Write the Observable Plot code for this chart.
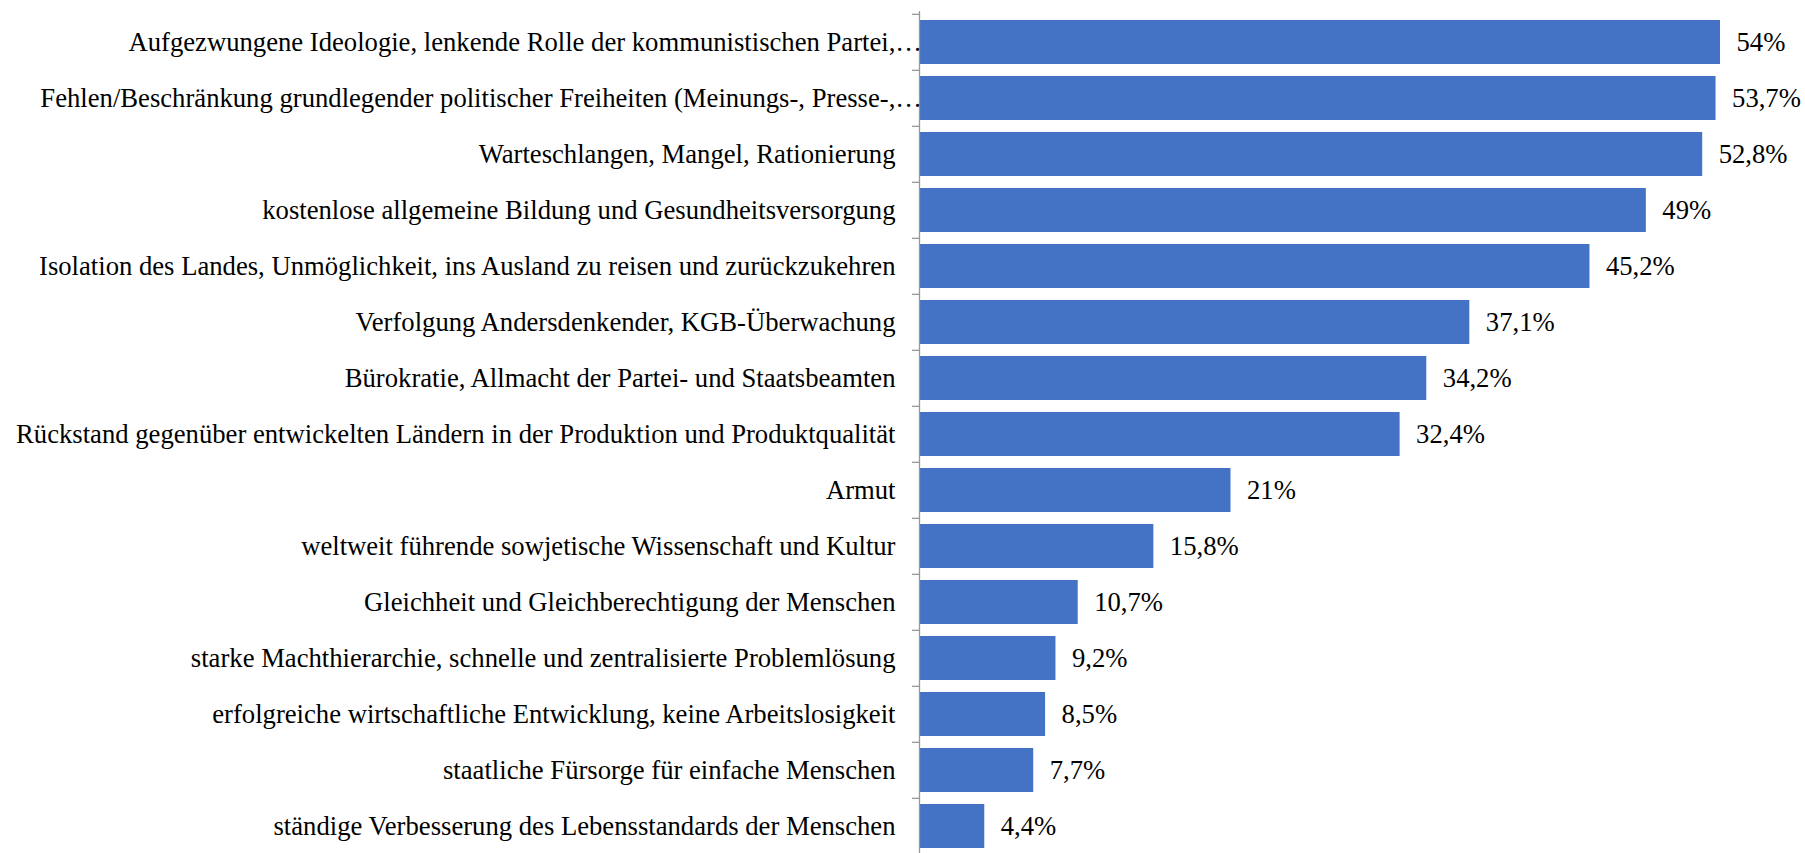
<!DOCTYPE html>
<html>
<head>
<meta charset="utf-8">
<script src="https://cdn.jsdelivr.net/npm/d3@7"></script>
<script src="https://cdn.jsdelivr.net/npm/@observablehq/plot@0.6"></script>
<style>
  html, body { margin: 0; padding: 0; background: #fff; overflow: hidden; }
</style>
</head>
<body>
<div id="chart"></div>
<script>
const categories = [
  "Aufgezwungene Ideologie, lenkende Rolle der kommunistischen Partei,…",
  "Fehlen/Beschränkung grundlegender politischer Freiheiten (Meinungs-, Presse-,…",
  "Warteschlangen, Mangel, Rationierung",
  "kostenlose allgemeine Bildung und Gesundheitsversorgung",
  "Isolation des Landes, Unmöglichkeit, ins Ausland zu reisen und zurückzukehren",
  "Verfolgung Andersdenkender, KGB-Überwachung",
  "Bürokratie, Allmacht der Partei- und Staatsbeamten",
  "Rückstand gegenüber entwickelten Ländern in der Produktion und Produktqualität",
  "Armut",
  "weltweit führende sowjetische Wissenschaft und Kultur",
  "Gleichheit und Gleichberechtigung der Menschen",
  "starke Machthierarchie, schnelle und zentralisierte Problemlösung",
  "erfolgreiche wirtschaftliche Entwicklung, keine Arbeitslosigkeit",
  "staatliche Fürsorge für einfache Menschen",
  "ständige Verbesserung des Lebensstandards der Menschen"
];
const values = [54, 53.7, 52.8, 49, 45.2, 37.1, 34.2, 32.4, 21, 15.8, 10.7, 9.2, 8.5, 7.7, 4.4];

const data = categories.map((c, i) => ({label: c, value: values[i]}));
const fmt = v => String(v).replace(".", ",") + "%";
const truncated = categories.filter(c => c.endsWith("…"));
const regular = categories.filter(c => !c.endsWith("…"));

const W = 1805, H = 853, mT = 11, mB = -3, FS = 26.67;
const step = (H - mT - mB) / categories.length;

const chart = Plot.plot({
  width: W,
  height: H,
  marginLeft: 919,
  marginRight: 85,
  marginTop: mT,
  marginBottom: mB,
  style: {fontFamily: "'Liberation Serif', 'Times New Roman', serif", fontSize: FS + "px", color: "#000", background: "#fff"},
  x: {domain: [0, d3.max(values)], axis: null},
  y: {domain: categories, padding: 0, axis: null},
  marks: [
    Plot.barX(data, {x: "value", y: "label", fill: "#4472C4", insetTop: 6, insetBottom: 6}),
    Plot.ruleX([0], {stroke: "#999", strokeWidth: 1.3}),
    Plot.axisY({tickSize: 7, tickFormat: () => "", dy: -step / 2, stroke: "#999", strokeWidth: 1.3, label: null}),
    Plot.axisY(regular, {tickSize: 0, tickPadding: 24, fontSize: FS, fill: "#000", label: null}),
    Plot.axisY(truncated, {tickSize: 0, tickPadding: -2.5, fontSize: FS, fill: "#000", label: null}),
    Plot.text(data, {x: "value", y: "label", text: d => fmt(d.value), textAnchor: "start", dx: 16, fontSize: FS, fill: "#000"})
  ]
});
document.getElementById("chart").appendChild(chart);
</script>
</body>
</html>
